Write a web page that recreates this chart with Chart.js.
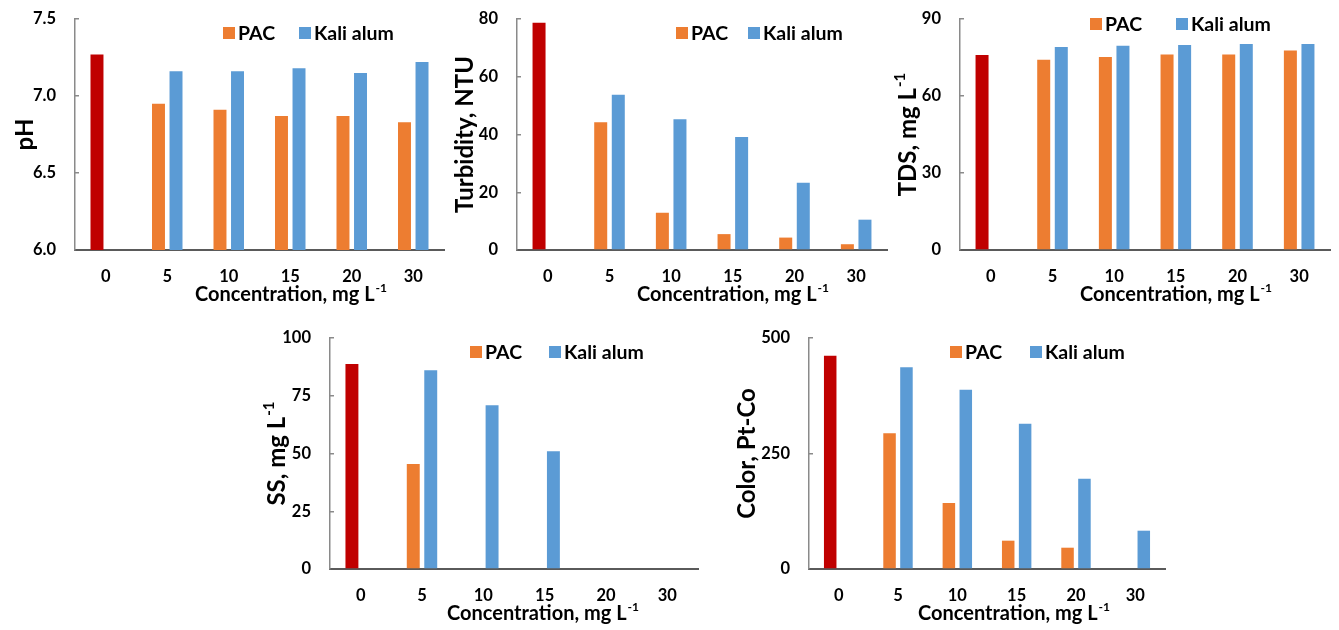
<!DOCTYPE html>
<html><head><meta charset="utf-8">
<script src="https://cdn.jsdelivr.net/npm/chart.js@4.4.1/dist/chart.umd.min.js"></script>
<style>
html,body{margin:0;padding:0;background:#fff;width:1339px;height:630px;overflow:hidden;}
canvas{position:absolute;display:block;}
</style></head><body>
<canvas id="c1"></canvas><canvas id="c2"></canvas><canvas id="c3"></canvas><canvas id="c4"></canvas><canvas id="c5"></canvas>
<script>
// ---- data (first PAC value = untreated raw water, drawn in dark red) ----
const categories = ['0', '5', '10', '15', '20', '30'];
const seriesNames = ['PAC', 'Kali alum'];

const phPAC   = [7.27, 6.95, 6.91, 6.87, 6.87, 6.83];
const phKali  = [null, 7.16, 7.16, 7.18, 7.15, 7.22];
const phTicks = [6.0, 6.5, 7.0, 7.5];

const turbPAC   = [78.7, 44.2, 12.9, 5.5, 4.3, 2.0];
const turbKali  = [null, 53.8, 45.3, 39.1, 23.3, 10.5];
const turbTicks = [0, 20, 40, 60, 80];

const tdsPAC   = [76.0, 74.1, 75.2, 76.2, 76.2, 77.7];
const tdsKali  = [null, 79.1, 79.6, 79.9, 80.3, 80.3];
const tdsTicks = [0, 30, 60, 90];

const ssPAC   = [88.7, 45.5, 0, 0, 0, 0];
const ssKali  = [null, 86.0, 70.9, 51.0, 0, 0];
const ssTicks = [0, 25, 50, 75, 100];

const colorPAC   = [461.7, 293.7, 142.9, 61.3, 46.1, 0];
const colorKali  = [null, 436.6, 388.0, 314.5, 195.5, 82.9];
const colorTicks = [0, 250, 500];

const xTitle = 'Concentration, mg L';
const xTitleSup = '-1';

// ---- styles ----
const RED = '#C00000', ORANGE = '#ED7D31', BLUE = '#5B9BD5';
const FONT = 'Lato';

function drawSup(ctx, text, sup, cx, cy, size) {
  const ss = Math.round(size * 0.62);
  ctx.font = `bold ${size}px ${FONT}`;
  const w1 = ctx.measureText(text).width;
  let w2 = 0;
  if (sup) { ctx.font = `bold ${ss}px ${FONT}`; w2 = ctx.measureText(sup).width + 1; }
  const x0 = cx - (w1 + w2) / 2;
  ctx.textBaseline = 'middle'; ctx.textAlign = 'left';
  ctx.font = `bold ${size}px ${FONT}`;
  ctx.fillText(text, x0, cy);
  if (sup) { ctx.font = `bold ${ss}px ${FONT}`; ctx.fillText(sup, x0 + w1 + 1, cy - size * 0.33); }
}

const annot = {
  id: 'annot',
  afterDraw(chart, args, o) {
    const ctx = chart.ctx, a = chart.chartArea;
    ctx.save();
    ctx.fillStyle = '#000';
    drawSup(ctx, o.xTitle, o.xSup, o.xTitleX, a.bottom + 45, 20);
    ctx.save();
    ctx.translate(o.yTitleX, (a.top + a.bottom) / 2);
    ctx.rotate(-Math.PI / 2);
    drawSup(ctx, o.yTitle, o.ySup, 0, 0, 24);
    ctx.restore();
    // legend
    const items = [[o.names[0], ORANGE, o.leg[0]], [o.names[1], BLUE, o.leg[1]]];
    ctx.font = `bold 19.5px ${FONT}`;
    ctx.textBaseline = 'middle'; ctx.textAlign = 'left';
    for (const [name, col, lx] of items) {
      ctx.fillStyle = col;
      ctx.fillRect(lx, o.legY - 6, 12, 12);
      ctx.fillStyle = '#000';
      ctx.fillText(name, lx + 15, o.legY + 1);
    }
    ctx.restore();
  }
};

function make(cfg) {
  const {id, box, area, pac, kali, ticks, dec, yTitle, ySup, yTitleX, xTitleX, leg, legY} = cfg;
  const cv = document.getElementById(id);
  cv.style.left = box.x + 'px'; cv.style.top = box.y + 'px';
  cv.width = box.w; cv.height = box.h;
  cv.style.width = box.w + 'px'; cv.style.height = box.h + 'px';
  let yW = area.l - box.x, xH = box.y + box.h - area.b;
  const tickFont = { family: FONT, size: 16.5, weight: 'bold' };
  const ch = new Chart(cv, {
    type: 'bar',
    data: {
      labels: categories,
      datasets: [
        { label: seriesNames[0], data: pac, backgroundColor: pac.map((v, i) => i === 0 ? RED : ORANGE),
          categoryPercentage: 0.57, barPercentage: 0.74, borderWidth: 0 },
        { label: seriesNames[1], data: kali, backgroundColor: BLUE,
          categoryPercentage: 0.57, barPercentage: 0.74, borderWidth: 0 }
      ]
    },
    options: {
      responsive: false, animation: false, devicePixelRatio: 1,
      layout: { padding: { left: 0, top: area.t - box.y, right: box.x + box.w - area.r, bottom: 0 } },
      plugins: {
        legend: { display: false }, tooltip: { enabled: false },
        annot: { xTitle: xTitle, xSup: xTitleSup, xTitleX: xTitleX - box.x,
                 yTitle, ySup, yTitleX: yTitleX - box.x,
                 names: seriesNames, leg: leg.map(v => v - box.x), legY: legY - box.y }
      },
      scales: {
        x: {
          grid: { display: false, drawTicks: false },
          border: { display: true, color: '#5a5a5a', width: 2 },
          ticks: { padding: 17, color: '#000', font: tickFont },
          afterFit: s => { s.height = xH; s.paddingLeft = 0; s.paddingRight = 0; }
        },
        y: {
          min: ticks[0], max: ticks[ticks.length - 1],
          grid: { display: true, drawOnChartArea: false, drawTicks: true, tickLength: -4,
                  color: '#8a8a8a', lineWidth: 1.5 },
          border: { display: true, color: '#8a8a8a', width: 1.5 },
          ticks: { stepSize: ticks[1] - ticks[0], padding: 23, color: '#000', font: tickFont,
                   callback: v => Number(v).toFixed(dec) },
          afterFit: s => { s.width = yW; s.paddingTop = 0; s.paddingBottom = 0; }
        }
      }
    },
    plugins: [annot]
  });
  // make sure the plot area lands exactly where intended
  for (let k = 0; k < 2; k++) {
    const ca = ch.chartArea, p = ch.options.layout.padding;
    const dt = (area.t - box.y) - ca.top, dr = ca.right - (area.r - box.x);
    const dl = (area.l - box.x) - ca.left, db = ca.bottom - (area.b - box.y);
    if (!dt && !dr && !dl && !db) break;
    p.top += dt; p.right += dr; yW += dl; xH += db;
    ch.update();
  }
}

make({ id: 'c1', box: {x: 0, y: 0, w: 450, h: 310}, area: {l: 75, r: 444, t: 19, b: 250},
  pac: phPAC, kali: phKali, ticks: phTicks, dec: 1, yTitle: 'pH', ySup: '',
  yTitleX: 25, xTitleX: 291, leg: [223, 299], legY: 33 });
make({ id: 'c2', box: {x: 450, y: 0, w: 443, h: 310}, area: {l: 517, r: 887, t: 19, b: 250},
  pac: turbPAC, kali: turbKali, ticks: turbTicks, dec: 0, yTitle: 'Turbidity, NTU', ySup: '',
  yTitleX: 465, xTitleX: 733, leg: [676, 748], legY: 33 });
make({ id: 'c3', box: {x: 893, y: 0, w: 446, h: 310}, area: {l: 960, r: 1330, t: 19, b: 250},
  pac: tdsPAC, kali: tdsKali, ticks: tdsTicks, dec: 0, yTitle: 'TDS, mg L', ySup: '-1',
  yTitleX: 908, xTitleX: 1176, leg: [1090, 1176], legY: 24 });
make({ id: 'c4', box: {x: 240, y: 320, w: 465, h: 310}, area: {l: 330, r: 698, t: 338, b: 569},
  pac: ssPAC, kali: ssKali, ticks: ssTicks, dec: 0, yTitle: 'SS, mg L', ySup: '-1',
  yTitleX: 277, xTitleX: 543, leg: [470, 549], legY: 352 });
make({ id: 'c5', box: {x: 705, y: 320, w: 470, h: 310}, area: {l: 809, r: 1165, t: 338, b: 569},
  pac: colorPAC, kali: colorKali, ticks: colorTicks, dec: 0, yTitle: 'Color, Pt-Co', ySup: '',
  yTitleX: 747, xTitleX: 1014, leg: [950, 1030], legY: 352 });
</script>
</body></html>
